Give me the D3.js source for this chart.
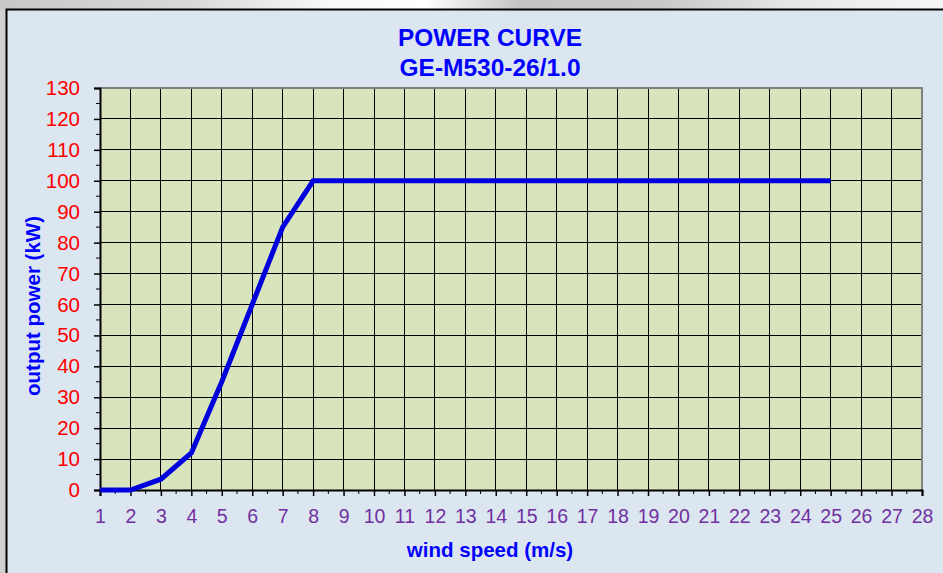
<!DOCTYPE html>
<html>
<head>
<meta charset="utf-8">
<script src="https://cdn.jsdelivr.net/npm/d3@7"></script>
<style>
  html, body { margin: 0; padding: 0; background: #d4d4d4; }
  svg { display: block; font-family: "Liberation Sans", Arial, sans-serif; }
</style>
</head>
<body>
<svg id="chart" width="943" height="573"></svg>
<script>
// wind speed (m/s) vs output power (kW)
var windSpeed = [1, 2, 3, 4, 5, 6, 7, 8, 9, 10, 11, 12, 13, 14, 15, 16, 17, 18, 19, 20, 21, 22, 23, 24, 25]
var power = [0, 0, 3.5, 12, 35, 60, 85, 100, 100, 100, 100, 100, 100, 100, 100, 100, 100, 100, 100, 100, 100, 100, 100, 100, 100]
var xTicks = d3.range(1, 29)
var yTicks = d3.range(0, 131, 10)
var titleLines = ['POWER CURVE', 'GE-M530-26/1.0']

var svg = d3.select('#chart')

// page strip above the chart (gray gradient)
var defs = svg.append('defs')
var grad = defs.append('linearGradient').attr('id', 'topband')
  .attr('x1', 0).attr('x2', 1).attr('y1', 0).attr('y2', 0)
;[[0, '#c8c8c8'], [0.2, '#d8d8d8'], [0.35, '#f8f8f8'], [0.45, '#ffffff'], [0.55, '#c4c4c4'],
  [0.7, '#c8c8c8'], [0.85, '#e8e8e8'], [1, '#f6f6f6']].forEach((s) => {
  grad.append('stop').attr('offset', s[0]).attr('stop-color', s[1])
})
svg.append('rect').attr('width', 943).attr('height', 10).attr('fill', 'url(#topband)')
svg.append('rect').attr('y', 10).attr('width', 6).attr('height', 563).attr('fill', '#d0d0d0')

// chart area
svg.append('rect')
  .attr('x', 6.5).attr('y', 9.5).attr('width', 945).attr('height', 570)
  .attr('fill', '#dce6f1').attr('stroke', '#000').attr('stroke-width', 2)

var margin = {left: 100, right: 21, top: 88, bottom: 83}
var x = d3.scaleLinear().domain([1, 28]).range([margin.left, 943 - margin.right])
var y = d3.scaleLinear().domain([0, 130]).range([573 - margin.bottom, margin.top])

// plot area
svg.append('rect')
  .attr('x', x(1)).attr('y', y(130))
  .attr('width', x(28) - x(1)).attr('height', y(0) - y(130))
  .attr('fill', '#d8e4bc')

var grid = svg.append('g').attr('stroke', '#000').attr('stroke-width', 1).attr('shape-rendering', 'crispEdges')
grid.selectAll('.vline').data(xTicks.slice(1, -1)).enter()
  .append('line').attr('class', 'vline')
  .attr('x1', (d) => x(d)).attr('x2', (d) => x(d))
  .attr('y1', y(130)).attr('y2', y(0))
grid.selectAll('.hline').data(yTicks.slice(1, -1)).enter()
  .append('line').attr('class', 'hline')
  .attr('x1', x(1)).attr('x2', x(28))
  .attr('y1', (d) => y(d)).attr('y2', (d) => y(d))

// plot frame: gray on top/right
svg.append('path')
  .attr('d', 'M' + x(1) + ',' + y(130) + 'H' + x(28) + 'V' + y(0))
  .attr('fill', 'none').attr('stroke', '#808080').attr('stroke-width', 2)

// axes
var xAxis = d3.axisBottom(x).tickValues(xTicks).tickSize(6).tickPadding(13).tickFormat(d3.format('d'))
var yAxis = d3.axisLeft(y).tickValues(yTicks).tickSize(6).tickPadding(14)

var gx = svg.append('g').attr('transform', 'translate(0,' + y(0) + ')').call(xAxis)
var gy = svg.append('g').attr('transform', 'translate(' + x(1) + ',0)').call(yAxis)

gx.select('.domain').attr('stroke', '#000').attr('stroke-width', 2)
gy.select('.domain').attr('stroke', '#000').attr('stroke-width', 2)
gx.selectAll('.tick line').attr('stroke', '#000').attr('stroke-width', 1.5)
gy.selectAll('.tick line').attr('stroke', '#000').attr('stroke-width', 1.5)
gx.selectAll('.tick text').attr('fill', '#7030a0').attr('font-size', 19.5)
  .attr('font-family', '"Liberation Sans", Arial, sans-serif')
gy.selectAll('.tick text').attr('fill', '#ff0000').attr('font-size', 20.5)
  .attr('font-family', '"Liberation Sans", Arial, sans-serif')

// minor ticks
var xMinor = d3.range(1.5, 28, 1)
var yMinor = d3.range(5, 130, 10)
svg.append('g').selectAll('line').data(xMinor).enter().append('line')
  .attr('x1', (d) => x(d)).attr('x2', (d) => x(d))
  .attr('y1', y(0)).attr('y2', y(0) + 4)
  .attr('stroke', '#000').attr('stroke-width', 1)
svg.append('g').selectAll('line').data(yMinor).enter().append('line')
  .attr('x1', x(1) - 4).attr('x2', x(1))
  .attr('y1', (d) => y(d)).attr('y2', (d) => y(d))
  .attr('stroke', '#000').attr('stroke-width', 1)

// the power curve
var line = d3.line().x((d) => x(d[0])).y((d) => y(d[1]))
svg.append('path')
  .datum(d3.zip(windSpeed, power))
  .attr('d', line)
  .attr('fill', 'none').attr('stroke', '#0000dd').attr('stroke-width', 5)
  .attr('stroke-linejoin', 'miter')

// titles
svg.selectAll('.title').data(titleLines).enter()
  .append('text').attr('class', 'title')
  .attr('x', 490).attr('y', (d, i) => 46 + i * 30)
  .attr('text-anchor', 'middle').attr('font-size', 24).attr('font-weight', 'bold')
  .attr('fill', '#0000ff')
  .attr('textLength', (d, i) => i === 0 ? 184 : 181).attr('lengthAdjust', 'spacingAndGlyphs')
  .text((d) => d)

svg.append('text')
  .attr('x', 490).attr('y', 557)
  .attr('text-anchor', 'middle').attr('font-size', 20.5).attr('font-weight', 'bold')
  .attr('fill', '#0000ff')
  .text('wind speed (m/s)')

svg.append('text')
  .attr('transform', 'translate(40,' + 306 + ') rotate(-90)')
  .attr('text-anchor', 'middle').attr('font-size', 20.5).attr('font-weight', 'bold')
  .attr('fill', '#0000ff')
  .text('output power (kW)')
</script>
</body>
</html>
